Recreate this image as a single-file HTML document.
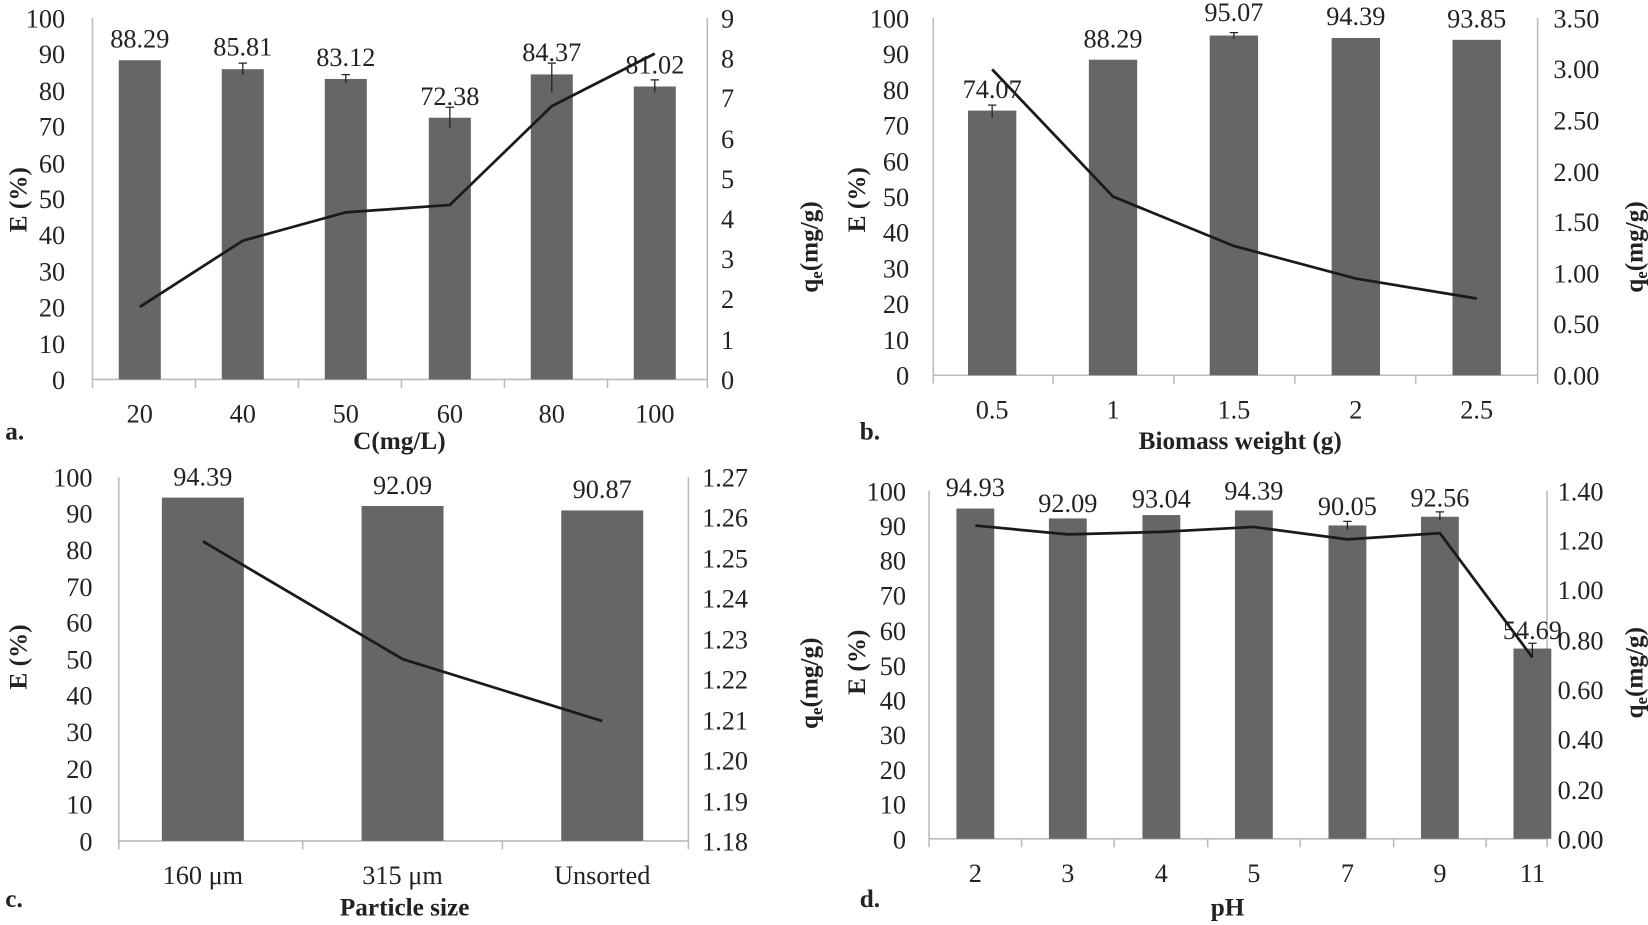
<!DOCTYPE html>
<html><head><meta charset="utf-8"><style>
html,body{margin:0;padding:0;background:#fff;}
svg{display:block;}
text{font-family:"Liberation Serif",serif;fill:#222;}
.t{font-size:25px;}
.r{text-anchor:end;}
.m{text-anchor:middle;}
.b{font-weight:bold;font-size:24px;}
.bar{fill:#666;}
.ax{stroke:#bbb;stroke-width:1.5;fill:none;}
.ln{stroke:#1a1a1a;stroke-width:2.6;fill:none;}
.eb{stroke:#222;stroke-width:1.2;}
</style></head><body>
<svg width="1648" height="925" viewBox="0 0 1568 880" preserveAspectRatio="none" xmlns="http://www.w3.org/2000/svg">
<!-- Panel a -->
<g>
<path class="ax" d="M88 17V361H673V17M88 361v8M186 361v8M284 361v8M382 361v8M480 361v8M578 361v8M673 361v8"/>
<rect class="bar" x="113" y="57.3" width="40" height="303.7"/>
<rect class="bar" x="211" y="65.8" width="40" height="295.2"/>
<rect class="bar" x="309" y="75.1" width="40" height="285.9"/>
<rect class="bar" x="408" y="112" width="40" height="249"/>
<rect class="bar" x="505" y="70.8" width="40" height="290.2"/>
<rect class="bar" x="603" y="82.3" width="40" height="278.7"/>
<path class="eb" d="M231 60v11M227 60h8M329 71v8M325 71h8M428 102v20M424 102h8M525 60v28M521 60h8M623 76v12M619 76h8"/>
<polyline class="ln" points="133,292 231,229 329,202 428,195 525,101 623,51"/>
<g class="t m">
<text x="133" y="45">88.29</text><text x="231" y="53">85.81</text><text x="329" y="63">83.12</text><text x="428" y="100">72.38</text><text x="525" y="58">84.37</text><text x="623" y="70">81.02</text>
<text x="133" y="402">20</text><text x="231" y="402">40</text><text x="329" y="402">50</text><text x="428" y="402">60</text><text x="525" y="402">80</text><text x="623" y="402">100</text>
</g>
<g class="t r">
<text x="62" y="370">0</text><text x="62" y="336">10</text><text x="62" y="301">20</text><text x="62" y="267">30</text><text x="62" y="232">40</text><text x="62" y="198">50</text><text x="62" y="164">60</text><text x="62" y="129">70</text><text x="62" y="95">80</text><text x="62" y="60">90</text><text x="62" y="26">100</text>
</g>
<g class="t">
<text x="686" y="370">0</text><text x="686" y="332">1</text><text x="686" y="293">2</text><text x="686" y="255">3</text><text x="686" y="217">4</text><text x="686" y="179">5</text><text x="686" y="141">6</text><text x="686" y="102">7</text><text x="686" y="64">8</text><text x="686" y="26">9</text>
</g>
<text class="b m" x="380" y="427">C(mg/L)</text>
<text class="b" x="5" y="418">a.</text>
<text class="b m" transform="translate(25,190) rotate(-90)">E (%)</text>
<text class="b m" transform="translate(778,235) rotate(-90)">q<tspan font-size="16" dy="4">e</tspan><tspan dy="-4">(mg/g)</tspan></text>
</g>
<!-- Panel b -->
<g>
<path class="ax" d="M888 17V357H1463V17M888 357v8M1002 357v8M1117 357v8M1232 357v8M1347 357v8M1463 357v8"/>
<rect class="bar" x="921" y="105.2" width="46" height="251.8"/>
<rect class="bar" x="1036" y="56.8" width="46" height="300.2"/>
<rect class="bar" x="1151" y="33.8" width="46" height="323.2"/>
<rect class="bar" x="1267" y="36.1" width="46" height="320.9"/>
<rect class="bar" x="1382" y="37.9" width="46" height="319.1"/>
<path class="eb" d="M944 100v12M940 100h8M1174 31v6M1170 31h8"/>
<polyline class="ln" points="944,66 1059,187 1174,234 1290,265 1405,284"/>
<g class="t m">
<text x="944" y="93">74.07</text><text x="1059" y="45">88.29</text><text x="1174" y="20">95.07</text><text x="1290" y="24">94.39</text><text x="1405" y="26">93.85</text>
<text x="944" y="398">0.5</text><text x="1059" y="398">1</text><text x="1174" y="398">1.5</text><text x="1290" y="398">2</text><text x="1405" y="398">2.5</text>
</g>
<g class="t r">
<text x="865" y="366">0</text><text x="865" y="332">10</text><text x="865" y="298">20</text><text x="865" y="264">30</text><text x="865" y="230">40</text><text x="865" y="196">50</text><text x="865" y="162">60</text><text x="865" y="128">70</text><text x="865" y="94">80</text><text x="865" y="60">90</text><text x="865" y="26">100</text>
</g>
<g class="t">
<text x="1478" y="366">0.00</text><text x="1478" y="317">0.50</text><text x="1478" y="269">1.00</text><text x="1478" y="220">1.50</text><text x="1478" y="172">2.00</text><text x="1478" y="123">2.50</text><text x="1478" y="74">3.00</text><text x="1478" y="26">3.50</text>
</g>
<text class="b m" x="1180" y="427">Biomass weight (g)</text>
<text class="b" x="818" y="418">b.</text>
<text class="b m" transform="translate(823,190) rotate(-90)">E (%)</text>
<text class="b m" transform="translate(1563,235) rotate(-90)">q<tspan font-size="16" dy="4">e</tspan><tspan dy="-4">(mg/g)</tspan></text>
</g>
<!-- Panel c -->
<g>
<path class="ax" d="M113 454V800H655V454M113 800v8M288 800v8M478 800v8M655 800v8"/>
<rect class="bar" x="154" y="473.4" width="78" height="326.6"/>
<rect class="bar" x="344" y="481.4" width="78" height="318.6"/>
<rect class="bar" x="534" y="485.6" width="78" height="314.4"/>
<polyline class="ln" points="193,515 383,627 573,686"/>
<g class="t m">
<text x="193" y="462">94.39</text><text x="383" y="470">92.09</text><text x="573" y="474">90.87</text>
<text x="193" y="841">160 μm</text><text x="383" y="841">315 μm</text><text x="573" y="841">Unsorted</text>
</g>
<g class="t r">
<text x="88" y="809">0</text><text x="88" y="774">10</text><text x="88" y="740">20</text><text x="88" y="705">30</text><text x="88" y="670">40</text><text x="88" y="636">50</text><text x="88" y="601">60</text><text x="88" y="567">70</text><text x="88" y="532">80</text><text x="88" y="497">90</text><text x="88" y="463">100</text>
</g>
<g class="t">
<text x="668" y="809">1.18</text><text x="668" y="771">1.19</text><text x="668" y="732">1.20</text><text x="668" y="694">1.21</text><text x="668" y="655">1.22</text><text x="668" y="617">1.23</text><text x="668" y="578">1.24</text><text x="668" y="540">1.25</text><text x="668" y="501">1.26</text><text x="668" y="463">1.27</text>
</g>
<text class="b m" x="385" y="871">Particle size</text>
<text class="b" x="5" y="863">c.</text>
<text class="b m" transform="translate(25,625) rotate(-90)">E (%)</text>
<text class="b m" transform="translate(778,650) rotate(-90)">q<tspan font-size="16" dy="4">e</tspan><tspan dy="-4">(mg/g)</tspan></text>
</g>
<!-- Panel d -->
<g>
<path class="ax" d="M884 467V798H1472V467M884 798v8M972 798v8M1060 798v8M1149 798v8M1237 798v8M1326 798v8M1414 798v8M1472 798v8"/>
<rect class="bar" x="910" y="483.8" width="36" height="314.2"/>
<rect class="bar" x="998" y="493.2" width="36" height="304.8"/>
<rect class="bar" x="1087" y="490" width="36" height="308"/>
<rect class="bar" x="1175" y="485.6" width="36" height="312.4"/>
<rect class="bar" x="1264" y="499.9" width="36" height="298.1"/>
<rect class="bar" x="1352" y="491.6" width="36" height="306.4"/>
<rect class="bar" x="1440" y="617" width="36" height="181"/>
<path class="eb" d="M1282 496v8M1278 496h8M1370 487v8M1366 487h8M1458 612v12M1454 612h8"/>
<polyline class="ln" points="928,500 1016,508.4 1105,506 1193,501.3 1282,513.1 1370,507.2 1458,625.4"/>
<g class="t m">
<text x="928" y="472">94.93</text><text x="1016" y="487">92.09</text><text x="1105" y="483">93.04</text><text x="1193" y="475">94.39</text><text x="1282" y="490">90.05</text><text x="1370" y="482">92.56</text><text x="1458" y="608">54.69</text>
<text x="928" y="839">2</text><text x="1016" y="839">3</text><text x="1105" y="839">4</text><text x="1193" y="839">5</text><text x="1282" y="839">7</text><text x="1370" y="839">9</text><text x="1458" y="839">11</text>
</g>
<g class="t r">
<text x="862" y="807">0</text><text x="862" y="774">10</text><text x="862" y="741">20</text><text x="862" y="708">30</text><text x="862" y="675">40</text><text x="862" y="642">50</text><text x="862" y="609">60</text><text x="862" y="575">70</text><text x="862" y="542">80</text><text x="862" y="509">90</text><text x="862" y="476">100</text>
</g>
<g class="t">
<text x="1482" y="807">0.00</text><text x="1482" y="760">0.20</text><text x="1482" y="712">0.40</text><text x="1482" y="665">0.60</text><text x="1482" y="618">0.80</text><text x="1482" y="570">1.00</text><text x="1482" y="523">1.20</text><text x="1482" y="476">1.40</text>
</g>
<text class="b m" x="1168" y="871">pH</text>
<text class="b" x="818" y="863">d.</text>
<text class="b m" transform="translate(823,630) rotate(-90)">E (%)</text>
<text class="b m" transform="translate(1563,640) rotate(-90)">q<tspan font-size="16" dy="4">e</tspan><tspan dy="-4">(mg/g)</tspan></text>
</g>
</svg>
</body></html>
